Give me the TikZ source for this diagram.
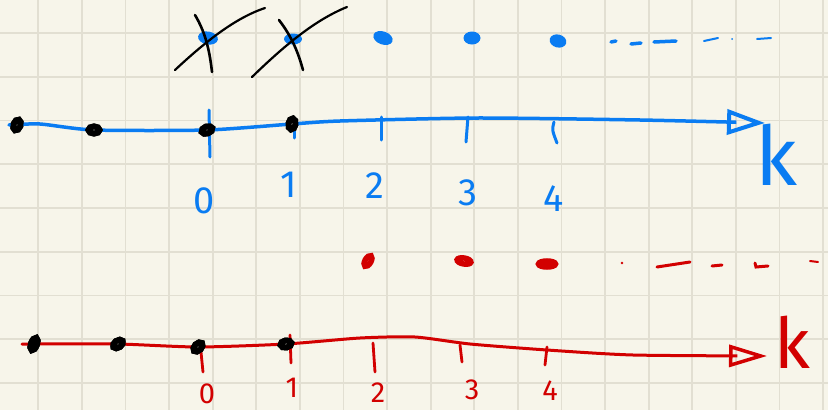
\documentclass[tikz,border=0pt]{standalone}
\usepackage{fontspec}
\setmainfont{Fira Sans}
\usetikzlibrary{arrows.meta,shapes.geometric}
\definecolor{paper}{HTML}{F7F5EA}
\definecolor{gridc}{HTML}{E2DFD2}
\definecolor{pblue}{HTML}{0A7CF2}
\definecolor{pred}{HTML}{D20000}
\tikzset{
  gridline/.style={draw=gridc, line width=1.8pt},
  blackdot/.style={ellipse, draw=black, fill=paper, line width=6pt, inner sep=0pt, minimum width=11pt, minimum height=7pt},
  bluedot/.style={ellipse, fill=pblue, inner sep=0pt, minimum width=20pt, minimum height=13pt},
  reddot/.style={ellipse, draw=pred, fill=paper, line width=5.5pt, inner sep=0pt, minimum width=12pt, minimum height=6pt},
  blueaxis/.style={draw=pblue, line width=3.5pt, line cap=round},
  redaxis/.style={draw=pred, line width=3pt, line cap=round},
  bluetick/.style={draw=pblue, line width=3pt, line cap=round},
  redtick/.style={draw=pred, line width=2.8pt, line cap=round},
  bluedash/.style={draw=pblue, line width=3.5pt, line cap=round},
  reddash/.style={draw=pred, line width=3pt, line cap=round},
  crossline/.style={draw=black, line width=2.2pt, line cap=round},
  bluelabel/.style={text=pblue, inner sep=0pt, font=\fontsize{38}{38}\selectfont},
  redlabel/.style={text=pred, inner sep=0pt, font=\fontsize{29}{29}\selectfont},
}
\begin{document}
\begin{tikzpicture}[x=1pt,y=-1pt]
\useasboundingbox (0,0) rectangle (828,410);
\fill[paper] (0,0) rectangle (828,410);
% grid
\foreach \i in {0,...,18} \draw[gridline] ({38.3+43.6*\i},0) -- ++(0,410);
\foreach \j in {0,...,8} \draw[gridline] (0,{33+43.75*\j}) -- ++(828,0);

% ===== blue part =====
\coordinate (bstart) at (9,125);
\coordinate (bm1) at (40,124);
\coordinate (bm2) at (340,121);
\coordinate (bm3) at (477,118);
\coordinate (bm4) at (640,120);
\coordinate (bend) at (765,123);
\node[blackdot, rotate=70] (bd1) at (17,125) {};
\node[blackdot] (bd2) at (94,130) {};
\node[blackdot, rotate=20] (bd3) at (207,130) {};
\node[blackdot, rotate=80] (bd4) at (292,124) {};
% ticks
\draw[bluetick] (209,110) -- (210,157);
\draw[bluetick] (294,131) -- (294,138);
\draw[bluetick] (381,117) -- (381,140);
\draw[bluetick] (468,117) -- (466,142);
\draw[bluetick] (554,122) .. controls (552,130) .. (557,143);
\draw[blueaxis, -{Triangle[open, length=38pt, width=25pt, line width=4pt]}]
  plot[smooth, tension=0.4] coordinates {(bstart) (bm1) (bd2.center) (bd3.center) (bd4.center) (bm2) (bm3) (bm4) (bend)};
\node[blackdot, rotate=70] at (17,125) {};
\node[blackdot] at (94,130) {};
\node[blackdot, rotate=20] at (207,130) {};
\node[blackdot, rotate=80] at (292,124) {};
% labels
\node[bluelabel] (b0) at (204,201) {0};
\node[bluelabel] (b1) at (289,185) {1};
\node[bluelabel] (b2) at (375,186) {2};
\node[bluelabel] (b3) at (468,193) {3};
\node[bluelabel] (b4) at (554,199) {4};
\node[text=pblue, inner sep=0pt, font=\fontsize{82}{82}\selectfont] (bk) at (776,155) {k};
% top dots
\node[bluedot, rotate=-10] (t0) at (208,38) {};
\node[bluedot, minimum width=18pt, minimum height=11pt] (t1) at (293,39) {};
\node[bluedot, rotate=-20] (t2) at (383,38) {};
\node[bluedot, minimum width=17pt, minimum height=13pt] (t3) at (472,38) {};
\node[bluedot, minimum width=17pt, minimum height=13pt, rotate=-15] (t4) at (558,41) {};
\draw[bluedash] (611,42) -- (616,41);
\draw[bluedash] (631,44) -- (641,43);
\draw[bluedash] (654,42) -- (676,41);
\draw[bluedash, line width=2pt] (704,41) -- (718,38);
\fill[pblue] (732,39) circle (1pt);
\draw[bluedash, line width=2pt] (757,39) -- (771,38);
% crosses
\draw[crossline] (175,70) .. controls (205,42) and (235,18) .. (265,8);
\draw[crossline, line width=2.6pt] (195,15) .. controls (207,35) and (210,55) .. (212,72);
\draw[crossline] (252,77) .. controls (285,45) and (315,20) .. (347,7);
\draw[crossline, line width=2.6pt] (279,20) .. controls (292,37) and (298,52) .. (303,70);

% ===== red part =====
\coordinate (rstart) at (22,344);
\coordinate (rm1) at (360,338);
\coordinate (rm2) at (415,337);
\coordinate (rm3) at (470,344);
\coordinate (rm4) at (547,350);
\coordinate (rm5) at (633,355);
\coordinate (rend) at (767,356);
\node[blackdot, rotate=70, minimum width=13pt, minimum height=6pt] (rd1) at (34,344) {};
\node[blackdot, rotate=35] (rd2) at (118,344) {};
\node[blackdot, rotate=45] (rd3) at (198,347) {};
\node[blackdot, rotate=10] (rd4) at (286,344) {};
% ticks
\draw[redtick] (201,352) -- (203,372);
\draw[redtick] (290,335) -- (291,363);
\draw[redtick] (373,343) -- (375,372);
\draw[redtick] (460,345) -- (462,362);
\draw[redtick] (547,347) -- (545,365);
\draw[redaxis, -{Triangle[open, length=38pt, width=22pt, line width=3.5pt]}]
  plot[smooth, tension=0.4] coordinates {(rstart) (rd1.center) (rd2.center) (rd3.center) (rd4.center) (rm1) (rm2) (rm3) (rm4) (rm5) (rend)};
\node[blackdot, rotate=70, minimum width=13pt, minimum height=6pt] at (34,344) {};
\node[blackdot, rotate=35] at (118,344) {};
\node[blackdot, rotate=45] at (198,347) {};
\node[blackdot, rotate=10] at (286,344) {};
% labels
\node[redlabel] (r0) at (207,394) {0};
\node[redlabel] (r1) at (292,388) {1};
\node[redlabel] (r2) at (378,393) {2};
\node[redlabel] (r3) at (472,390) {3};
\node[redlabel] (r4) at (550,391) {4};
\node[text=pred, inner sep=0pt, font=\fontsize{70}{70}\selectfont] (rk) at (792,342) {k};
% top dots
\node[reddot, rotate=60] (s2) at (368,261) {};
\node[reddot, rotate=-10, minimum width=14pt] (s3) at (464,261) {};
\node[reddot, minimum width=17pt] (s4) at (547,264) {};
\fill[pred] (622,263) circle (1.3pt);
\draw[reddash] (657,267) -- (690,262);
\draw[reddash] (712,266) -- (722,265);
\draw[reddash] (755,263) -- (756,267) -- (768,266);
\draw[reddash, line width=2pt] (810,261) -- (818,262);
\end{tikzpicture}
\end{document}
